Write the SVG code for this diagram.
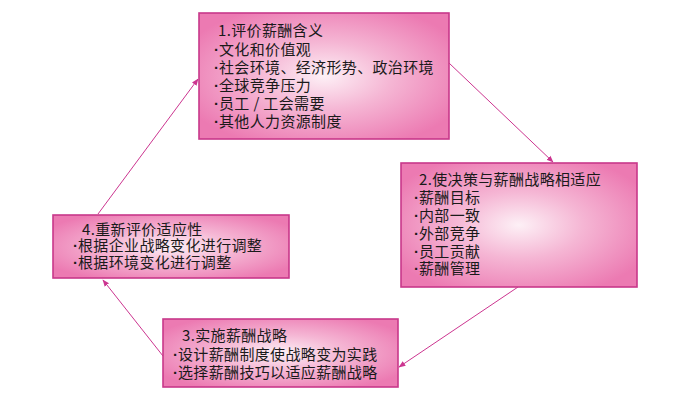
<svg xmlns="http://www.w3.org/2000/svg" width="679" height="401" viewBox="0 0 679 401">
<defs>
<radialGradient id="g" cx="0.5" cy="0.5" r="0.6">
<stop offset="0" stop-color="#fdf0f6"/>
<stop offset="0.45" stop-color="#f5b6d4"/>
<stop offset="1" stop-color="#ec7ab2"/>
</radialGradient>
<marker id="ah" viewBox="0 0 10 10" refX="9" refY="5" markerWidth="7" markerHeight="7" orient="auto" markerUnits="userSpaceOnUse">
<path d="M0,1 L10,5 L0,9 Z" fill="#cc3590"/>
</marker>
<style>
.box{fill:url(#g);stroke:#c8388a;stroke-width:1.6}
.t{font-family:"Noto Sans CJK SC","Noto Sans",sans-serif;font-size:15px;fill:#1a1a1a;letter-spacing:0.35px}
.b{font-family:"Liberation Sans",sans-serif;font-weight:bold;letter-spacing:0}
.c{fill:none;stroke:#cc3590;stroke-width:1;marker-end:url(#ah)}
</style>
</defs>
<rect width="679" height="401" fill="#ffffff"/>
<g id="connectors">
<line class="c" x1="449" y1="63" x2="553" y2="162"/>
<line class="c" x1="518" y1="287" x2="399" y2="367"/>
<line class="c" x1="163" y1="356" x2="103" y2="280"/>
<line class="c" x1="98" y1="214" x2="198" y2="79"/>
</g>
<g id="node1">
<rect class="box" x="199" y="13" width="250" height="126"/>
<text class="t" x="218" y="36">1.评价薪酬含义</text>
<text class="t" x="214" y="54.5"><tspan class="b">·</tspan>文化和价值观</text>
<text class="t" x="214" y="73"><tspan class="b">·</tspan>社会环境、经济形势、政治环境</text>
<text class="t" x="214" y="91"><tspan class="b">·</tspan>全球竞争压力</text>
<text class="t" x="214" y="109"><tspan class="b">·</tspan>员工 / 工会需要</text>
<text class="t" x="214" y="127"><tspan class="b">·</tspan>其他人力资源制度</text>
</g>
<g id="node2">
<rect class="box" x="401" y="163" width="236" height="124"/>
<text class="t" x="419" y="185">2.使决策与薪酬战略相适应</text>
<text class="t" x="414" y="203"><tspan class="b">·</tspan>薪酬目标</text>
<text class="t" x="414" y="221"><tspan class="b">·</tspan>内部一致</text>
<text class="t" x="414" y="239"><tspan class="b">·</tspan>外部竞争</text>
<text class="t" x="414" y="257"><tspan class="b">·</tspan>员工贡献</text>
<text class="t" x="414" y="274"><tspan class="b">·</tspan>薪酬管理</text>
</g>
<g id="node4">
<rect class="box" x="53" y="215" width="236" height="63"/>
<text class="t" x="82" y="235">4.重新评价适应性</text>
<text class="t" x="73" y="251"><tspan class="b">·</tspan>根据企业战略变化进行调整</text>
<text class="t" x="73" y="268"><tspan class="b">·</tspan>根据环境变化进行调整</text>
</g>
<g id="node3">
<rect class="box" x="163" y="319" width="235" height="68"/>
<text class="t" x="182" y="341">3.实施薪酬战略</text>
<text class="t" x="173" y="360"><tspan class="b">·</tspan>设计薪酬制度使战略变为实践</text>
<text class="t" x="173" y="378"><tspan class="b">·</tspan>选择薪酬技巧以适应薪酬战略</text>
</g>
</svg>
